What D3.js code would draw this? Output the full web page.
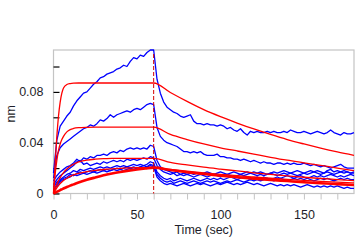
<!DOCTYPE html>
<html>
<head>
<meta charset="utf-8">
<script src="https://cdn.jsdelivr.net/npm/d3@7"></script>
<style>
  body { margin: 0; background: #fff; }
  svg { display: block; }
  text { font-family: "Liberation Sans", Arial, sans-serif; }
</style>
</head>
<body>
<svg id="chart" width="364" height="244"></svg>
<script>
// Measured traces, sampled every 2 sec (0..180)
var traceTimes = d3.range(0, 181, 2);

var trace1 = [0.016, 0.042, 0.053, 0.057, 0.061, 0.064, 0.069, 0.073, 0.076, 0.079, 0.080, 0.083, 0.086, 0.088, 0.091, 0.092,
  0.094, 0.095, 0.096, 0.098, 0.099, 0.101, 0.100, 0.104, 0.107, 0.106, 0.109, 0.108, 0.111, 0.113, 0.113,
  0.090, 0.079, 0.072, 0.068, 0.066, 0.064, 0.063, 0.061, 0.060, 0.061, 0.062, 0.057, 0.055, 0.055, 0.054,
  0.055, 0.054, 0.054, 0.053, 0.054, 0.053, 0.051, 0.052, 0.050, 0.049, 0.051, 0.048, 0.046, 0.049, 0.048,
  0.049, 0.048, 0.048, 0.049, 0.048, 0.049, 0.048, 0.048, 0.049, 0.048, 0.050, 0.049, 0.048, 0.048, 0.049,
  0.048, 0.047, 0.048, 0.049, 0.048, 0.047, 0.048, 0.050, 0.048, 0.047, 0.046, 0.048, 0.047, 0.047, 0.048];

var trace2 = [0.012, 0.030, 0.036, 0.039, 0.041, 0.043, 0.045, 0.047, 0.049, 0.051, 0.052, 0.054, 0.053, 0.055, 0.058, 0.057,
  0.059, 0.062, 0.060, 0.062, 0.063, 0.064, 0.065, 0.064, 0.066, 0.067, 0.066, 0.068, 0.070, 0.071, 0.070,
  0.052, 0.045, 0.042, 0.040, 0.039, 0.038, 0.037, 0.035, 0.033, 0.033, 0.032, 0.033, 0.032, 0.033, 0.031,
  0.030, 0.030, 0.030, 0.031, 0.029, 0.029, 0.028, 0.028, 0.027, 0.027, 0.026, 0.027, 0.026, 0.025, 0.026,
  0.025, 0.024, 0.025, 0.024, 0.024, 0.023, 0.024, 0.024, 0.023, 0.024, 0.023, 0.024, 0.023, 0.023, 0.024,
  0.023, 0.022, 0.023, 0.022, 0.021, 0.022, 0.021, 0.020, 0.021, 0.022, 0.023, 0.021, 0.020, 0.020, 0.020];

var trace3 = [0.010, 0.014, 0.017, 0.019, 0.021, 0.022, 0.024, 0.027, 0.025, 0.028, 0.027, 0.029, 0.028, 0.030, 0.030, 0.031,
  0.030, 0.032, 0.033, 0.032, 0.034, 0.033, 0.035, 0.036, 0.035, 0.036, 0.035, 0.036, 0.035, 0.038, 0.037,
  0.026, 0.021, 0.019, 0.018, 0.017, 0.016, 0.017, 0.015, 0.016, 0.015, 0.016, 0.015, 0.016, 0.015, 0.016,
  0.017, 0.016, 0.015, 0.016, 0.017, 0.016, 0.015, 0.016, 0.017, 0.016, 0.015, 0.016, 0.017, 0.016, 0.017,
  0.016, 0.017, 0.016, 0.015, 0.016, 0.017, 0.016, 0.017, 0.018, 0.017, 0.016, 0.017, 0.018, 0.017, 0.016,
  0.017, 0.018, 0.017, 0.018, 0.017, 0.016, 0.018, 0.019, 0.017, 0.018, 0.017, 0.018, 0.017, 0.016, 0.017];

var trace4 = [0.007, 0.011, 0.014, 0.016, 0.018, 0.020, 0.022, 0.025, 0.026, 0.023, 0.024, 0.022, 0.023, 0.024, 0.023, 0.025,
  0.024, 0.025, 0.026, 0.025, 0.026, 0.025, 0.027, 0.026, 0.027, 0.026, 0.027, 0.028, 0.027, 0.029, 0.028,
  0.022, 0.019, 0.017, 0.016, 0.015, 0.016, 0.014, 0.015, 0.014, 0.015, 0.014, 0.013, 0.014, 0.015, 0.014,
  0.013, 0.014, 0.015, 0.014, 0.013, 0.014, 0.015, 0.014, 0.013, 0.014, 0.015, 0.014, 0.015, 0.016, 0.015,
  0.014, 0.015, 0.014, 0.015, 0.016, 0.015, 0.014, 0.015, 0.016, 0.015, 0.016, 0.015, 0.014, 0.015, 0.016,
  0.015, 0.016, 0.017, 0.016, 0.015, 0.016, 0.017, 0.016, 0.015, 0.016, 0.017, 0.016, 0.017, 0.016, 0.016];

var trace5 = [0.005, 0.009, 0.011, 0.013, 0.015, 0.016, 0.018, 0.017, 0.019, 0.018, 0.019, 0.020, 0.019, 0.020, 0.021, 0.020,
  0.021, 0.020, 0.021, 0.022, 0.021, 0.022, 0.021, 0.022, 0.023, 0.022, 0.023, 0.022, 0.023, 0.025, 0.024,
  0.017, 0.014, 0.012, 0.011, 0.012, 0.010, 0.011, 0.012, 0.011, 0.010, 0.011, 0.012, 0.011, 0.010, 0.011,
  0.012, 0.011, 0.012, 0.011, 0.012, 0.011, 0.012, 0.013, 0.012, 0.011, 0.012, 0.013, 0.012, 0.011, 0.012,
  0.013, 0.012, 0.013, 0.012, 0.011, 0.012, 0.013, 0.012, 0.013, 0.014, 0.013, 0.012, 0.013, 0.014, 0.013,
  0.012, 0.013, 0.014, 0.013, 0.014, 0.013, 0.014, 0.015, 0.014, 0.013, 0.014, 0.013, 0.014, 0.015, 0.014];

var trace6 = [0.003, 0.007, 0.010, 0.012, 0.013, 0.015, 0.014, 0.016, 0.017, 0.016, 0.017, 0.018, 0.017, 0.018, 0.019, 0.018,
  0.019, 0.018, 0.019, 0.020, 0.019, 0.020, 0.021, 0.020, 0.021, 0.020, 0.021, 0.022, 0.021, 0.023, 0.022,
  0.015, 0.012, 0.010, 0.009, 0.010, 0.008, 0.009, 0.010, 0.009, 0.008, 0.009, 0.010, 0.009, 0.008, 0.009,
  0.010, 0.009, 0.010, 0.009, 0.008, 0.009, 0.010, 0.009, 0.010, 0.011, 0.010, 0.009, 0.010, 0.011, 0.010,
  0.011, 0.010, 0.011, 0.012, 0.011, 0.010, 0.011, 0.012, 0.011, 0.010, 0.011, 0.012, 0.011, 0.012, 0.011,
  0.012, 0.011, 0.010, 0.011, 0.012, 0.011, 0.012, 0.011, 0.010, 0.011, 0.012, 0.011, 0.012, 0.011, 0.011];

var trace7 = [0.002, 0.006, 0.009, 0.011, 0.012, 0.013, 0.015, 0.014, 0.015, 0.016, 0.015, 0.016, 0.017, 0.016, 0.017, 0.018,
  0.017, 0.018, 0.019, 0.018, 0.019, 0.018, 0.019, 0.020, 0.019, 0.020, 0.021, 0.020, 0.021, 0.022, 0.021,
  0.013, 0.010, 0.008, 0.007, 0.008, 0.007, 0.006, 0.007, 0.008, 0.007, 0.006, 0.007, 0.008, 0.007, 0.008,
  0.007, 0.006, 0.007, 0.008, 0.007, 0.008, 0.009, 0.008, 0.007, 0.008, 0.007, 0.008, 0.009, 0.008, 0.007,
  0.008, 0.007, 0.006, 0.007, 0.008, 0.007, 0.006, 0.007, 0.006, 0.007, 0.006, 0.007, 0.006, 0.005, 0.006,
  0.007, 0.006, 0.005, 0.006, 0.005, 0.006, 0.005, 0.006, 0.005, 0.006, 0.005, 0.004, 0.005, 0.004, 0.004];

var traces = [trace1, trace2, trace3, trace4, trace5, trace6, trace7];

// Fitted curves (association 0-60, dissociation 60-180)
var fitTimes = [0, 1, 2, 3, 4, 5, 6, 8, 10, 12, 15, 20, 25, 30, 35, 40, 45, 50, 55, 60,
  70, 80, 90, 100, 110, 120, 130, 140, 150, 160, 170, 180];

var fitA = [0, 0.024, 0.045, 0.061, 0.072, 0.079, 0.083, 0.0858, 0.0866, 0.0869, 0.087, 0.087, 0.087, 0.087, 0.087, 0.087, 0.087, 0.087, 0.087, 0.087,
  0.0795, 0.0725, 0.066, 0.0605, 0.0555, 0.0508, 0.0465, 0.0425, 0.039, 0.0357, 0.0327, 0.030];
var fitB = [0, 0.0153, 0.026, 0.034, 0.039, 0.0425, 0.045, 0.0485, 0.0503, 0.0512, 0.0518, 0.0521, 0.0522, 0.0522, 0.0522, 0.0522, 0.0522, 0.0522, 0.0522, 0.0522,
  0.0465, 0.0425, 0.039, 0.036, 0.0335, 0.031, 0.0285, 0.0262, 0.0242, 0.0222, 0.020, 0.018];
var fitC = [0, 0.0038, 0.0072, 0.0100, 0.0125, 0.0146, 0.0165, 0.0193, 0.0215, 0.023, 0.0249, 0.0263, 0.0270, 0.0274, 0.0276, 0.0277, 0.0277, 0.0277, 0.0277, 0.0277,
  0.0245, 0.0225, 0.0207, 0.0192, 0.0178, 0.0163, 0.015, 0.0138, 0.0128, 0.0118, 0.011, 0.0102];
var fitD = [0, 0.0007, 0.0014, 0.002, 0.0027, 0.0033, 0.0039, 0.0051, 0.0062, 0.0072, 0.0087, 0.0108, 0.0126, 0.0143, 0.0158, 0.0170, 0.0180, 0.0189, 0.0197, 0.0204,
  0.0185, 0.0168, 0.0153, 0.0140, 0.0128, 0.0117, 0.0107, 0.0098, 0.0089, 0.0081, 0.0074, 0.0067];
var fitE = [0, 0.0024, 0.0045, 0.0063, 0.0078, 0.0091, 0.0102, 0.012, 0.0135, 0.0146, 0.0158, 0.0172, 0.0182, 0.0189, 0.0194, 0.0198, 0.0201, 0.0203, 0.0204, 0.0205,
  0.019, 0.0176, 0.0163, 0.0151, 0.014, 0.013, 0.012, 0.0111, 0.0103, 0.0096, 0.0089, 0.0083];

var fits = [fitA, fitB, fitC, fitE, fitD];
var fitWidths = [1.3, 1.3, 1.3, 1.3, 2.6];

var xTicks = d3.range(0, 180, 10);
var xLabels = [0, 50, 100, 150];
var yTicks = [0, 0.02, 0.04, 0.06, 0.08, 0.10];
var yLabels = [0, 0.04, 0.08];
var switchTime = 60;
var peakValue = 0.113;

// Colours
var traceColour = '#0000ff';
var fitColour = '#ff0000';
var frameColour = '#c4c4c4';
var textColour = '#1e1e2a';

// plot box
var boxLeft = 53.5, boxRight = 354, boxTop = 50, boxBottom = 193.5;

var svg = d3.select('#chart');

var x = d3.scaleLinear().domain([0, 180]).range([boxLeft, boxRight]);
var y = d3.scaleLinear().domain([0, 0.113]).range([boxBottom, boxTop]);

// frame
svg.append('rect')
  .attr('x', boxLeft)
  .attr('y', boxTop)
  .attr('width', boxRight - boxLeft)
  .attr('height', boxBottom - boxTop)
  .attr('fill', 'none')
  .attr('stroke', frameColour)
  .attr('stroke-width', 1.2);

// x axis
var xAxis = svg.append('g')
  .attr('transform', 'translate(0,' + boxBottom + ')')
  .call(d3.axisBottom(x)
    .tickValues(xTicks)
    .tickSize(6)
    .tickPadding(11)
    .tickFormat(function (d) { return xLabels.indexOf(d) > -1 ? d : ''; }));
xAxis.select('.domain').remove();
xAxis.selectAll('line').attr('stroke', frameColour);
xAxis.selectAll('text')
  .attr('fill', textColour)
  .style('font-size', '12.5px');

// y axis
var yAxis = svg.append('g')
  .attr('transform', 'translate(' + boxLeft + ',0)')
  .call(d3.axisLeft(y)
    .tickValues(yTicks)
    .tickSizeInner(-6)
    .tickSizeOuter(0)
    .tickPadding(10)
    .tickFormat(function (d) {
      if (yLabels.indexOf(d) < 0) return '';
      return d === 0 ? '0' : d.toFixed(2);
    }));
yAxis.select('.domain').remove();
yAxis.selectAll('line').attr('stroke', '#000').attr('stroke-width', 1.2);
yAxis.selectAll('text')
  .attr('fill', textColour)
  .style('font-size', '12.5px');

// axis titles
svg.append('text')
  .attr('x', (boxLeft + boxRight) / 2)
  .attr('y', 234)
  .attr('text-anchor', 'middle')
  .attr('fill', textColour)
  .style('font-size', '12.5px')
  .text('Time (sec)');

svg.append('text')
  .attr('transform', 'translate(15,' + ((boxTop + boxBottom) / 2 - 8) + ') rotate(-90)')
  .attr('text-anchor', 'middle')
  .attr('fill', textColour)
  .style('font-size', '12.5px')
  .text('nm');

var plot = svg.append('g');

var traceLine = d3.line()
  .x(function (d, i) { return x(traceTimes[i]); })
  .y(function (d) { return y(d); });

plot.selectAll('path.trace')
  .data(traces)
  .enter().append('path')
  .attr('class', 'trace')
  .attr('d', traceLine)
  .attr('fill', 'none')
  .attr('stroke', traceColour)
  .attr('stroke-width', 1.3)
  .attr('stroke-linejoin', 'round');

var fitLine = d3.line()
  .x(function (d, i) { return x(fitTimes[i]); })
  .y(function (d) { return y(d); })
  .curve(d3.curveMonotoneX);

plot.selectAll('path.fit')
  .data(fits)
  .enter().append('path')
  .attr('class', 'fit')
  .attr('d', fitLine)
  .attr('fill', 'none')
  .attr('stroke', fitColour)
  .attr('stroke-width', function (d, i) { return fitWidths[i]; });

// association / dissociation switch
plot.append('line')
  .attr('x1', x(switchTime))
  .attr('x2', x(switchTime))
  .attr('y1', y(peakValue) + 4)
  .attr('y2', boxBottom)
  .attr('stroke', '#d40000')
  .attr('stroke-width', 1)
  .attr('stroke-dasharray', '4,2');
</script>
</body>
</html>
